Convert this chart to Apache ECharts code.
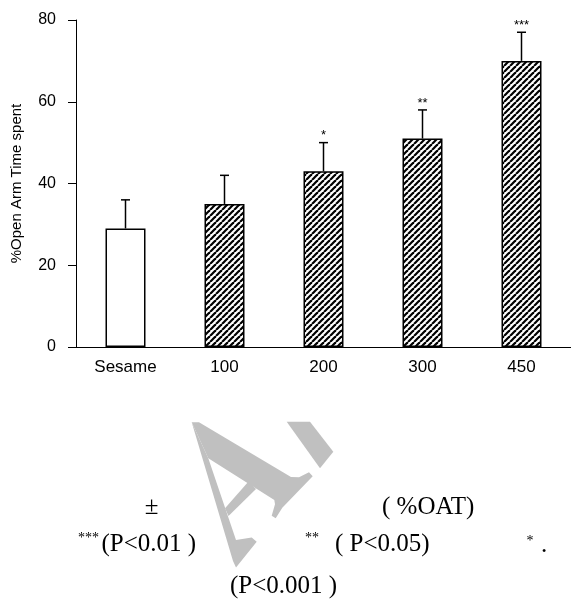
<!DOCTYPE html>
<html>
<head>
<meta charset="utf-8">
<script src="https://cdn.jsdelivr.net/npm/echarts@6/dist/echarts.min.js"></script>
<style>
  html, body { margin: 0; padding: 0; background: #fff; }
  #main1 { width: 571px; height: 599px; }
</style>
</head>
<body>
<div id="main1"></div>
<script>
// 数据
var categories = ["Sesame", "100", "200", "300", "450"];
var means = [29, 35, 43, 51, 70];
var errors = [7, 7, 7, 7, 7];
var marks = ["", "", "*", "**", "***"];
var yMin = 0;
var yMax = 80;
var yStep = 20;

var serif = '"Liberation Serif", "Times New Roman", serif';
var sans = '"Liberation Sans", Arial, sans-serif';

// 斜线填充
function makeHatch() {
  var c = document.createElement("canvas");
  c.width = 6;
  c.height = 6;
  var ctx = c.getContext("2d");
  ctx.fillStyle = "#fff";
  ctx.fillRect(0, 0, 6, 6);
  ctx.strokeStyle = "#000";
  ctx.lineWidth = 2.2;
  for (var k = -6; k <= 6; k += 6) {
    ctx.beginPath();
    ctx.moveTo(k, 6);
    ctx.lineTo(k + 6, 0);
    ctx.stroke();
  }
  return c;
}
var hatch = { image: makeHatch(), repeat: "repeat" };

var barData = means.map(function (v, i) {
  return {
    value: v,
    itemStyle: { color: i === 0 ? "#fff" : hatch },
  };
});
var errData = means.map(function (v, i) {
  return [i, v, v + errors[i]];
});

// 水印
var grey = "#c0c0c0";
var watermark = [
  [[191.7, 422.3], [199, 422.3], [291, 477], [299, 477.3], [309, 472.3], [312.7, 476.3],
   [282.3, 507.7], [275.7, 518.3], [271.7, 515.7], [275, 504.3], [274.3, 500], [208.3, 458.3]],
  [[191.7, 422.3], [208.3, 458.3], [236, 540], [251.7, 537.5], [256.7, 541.7],
   [236, 567.5], [233, 561]],
  [[225, 508.3], [248.3, 481.7], [256, 489], [228.5, 516]],
  [[286.7, 421.7], [310, 421.7], [333.3, 451.7], [320, 468.3]],
].map(function (pts) {
  return { type: "polygon", z: 1, shape: { points: pts }, style: { fill: grey } };
});

function txt(t, x, y, size, align) {
  return {
    type: "text",
    z: 5,
    style: {
      text: t,
      x: x,
      y: y,
      font: size + "px " + serif,
      fill: "#000",
      align: align || "left",
      verticalAlign: "middle",
    },
  };
}
var notes = [
  txt("±", 151.5, 507.5, 25, "center"),
  txt("( %OAT)", 382, 507, 25),
  txt("***", 78, 538, 14),
  txt("(P<0.01 )", 101.5, 544, 25),
  txt("**", 305, 538, 14),
  txt("( P<0.05)", 335, 544, 25),
  txt("*", 530, 541, 14, "center"),
  txt(".", 544, 545, 25, "center"),
  txt("(P<0.001 )", 230, 586, 25),
];

var chartDom = document.getElementById("main1");
var myChart = echarts.init(chartDom);

var option = {
  animation: false,
  backgroundColor: "#fff",
  grid: { left: 76, top: 20, width: 498, height: 327 },
  xAxis: {
    type: "category",
    data: categories,
    axisLine: { lineStyle: { color: "#000", width: 1 } },
    axisTick: { length: 7, lineStyle: { color: "#000" } },
    axisLabel: { color: "#000", fontSize: 17, fontFamily: sans, margin: 12 },
  },
  yAxis: {
    type: "value",
    min: yMin,
    max: yMax,
    interval: yStep,
    name: "%Open Arm Time spent",
    nameLocation: "middle",
    nameGap: 52,
    nameTextStyle: { color: "#000", fontSize: 15, fontFamily: sans },
    splitLine: { show: false },
    axisLine: { show: true, lineStyle: { color: "#000", width: 1 } },
    axisTick: { show: true, length: 8, lineStyle: { color: "#000" } },
    axisLabel: { color: "#000", fontSize: 16, fontFamily: sans, margin: 20 },
  },
  series: [
    {
      type: "bar",
      data: barData,
      barWidth: 40,
      itemStyle: { borderColor: "#000", borderWidth: 1.5 },
      z: 2,
    },
    {
      type: "custom",
      data: errData,
      encode: { x: 0, y: 2 },
      z: 3,
      renderItem: function (params, api) {
        var i = api.value(0);
        var top = api.coord([i, api.value(2)]);
        var base = api.coord([i, api.value(1)]);
        var cap = 4.5;
        var st = { stroke: "#000", lineWidth: 1.5 };
        return {
          type: "group",
          children: [
            { type: "line", shape: { x1: top[0], y1: base[1], x2: top[0], y2: top[1] }, style: st },
            { type: "line", shape: { x1: top[0] - cap, y1: top[1], x2: top[0] + cap, y2: top[1] }, style: st },
            {
              type: "text",
              style: {
                text: marks[params.dataIndex],
                x: top[0],
                y: top[1] - 7,
                align: "center",
                verticalAlign: "middle",
                font: "13px " + sans,
                fill: "#000",
              },
            },
          ],
        };
      },
    },
  ],
  graphic: watermark.concat(notes),
};
option && myChart.setOption(option);
</script>
</body>
</html>
